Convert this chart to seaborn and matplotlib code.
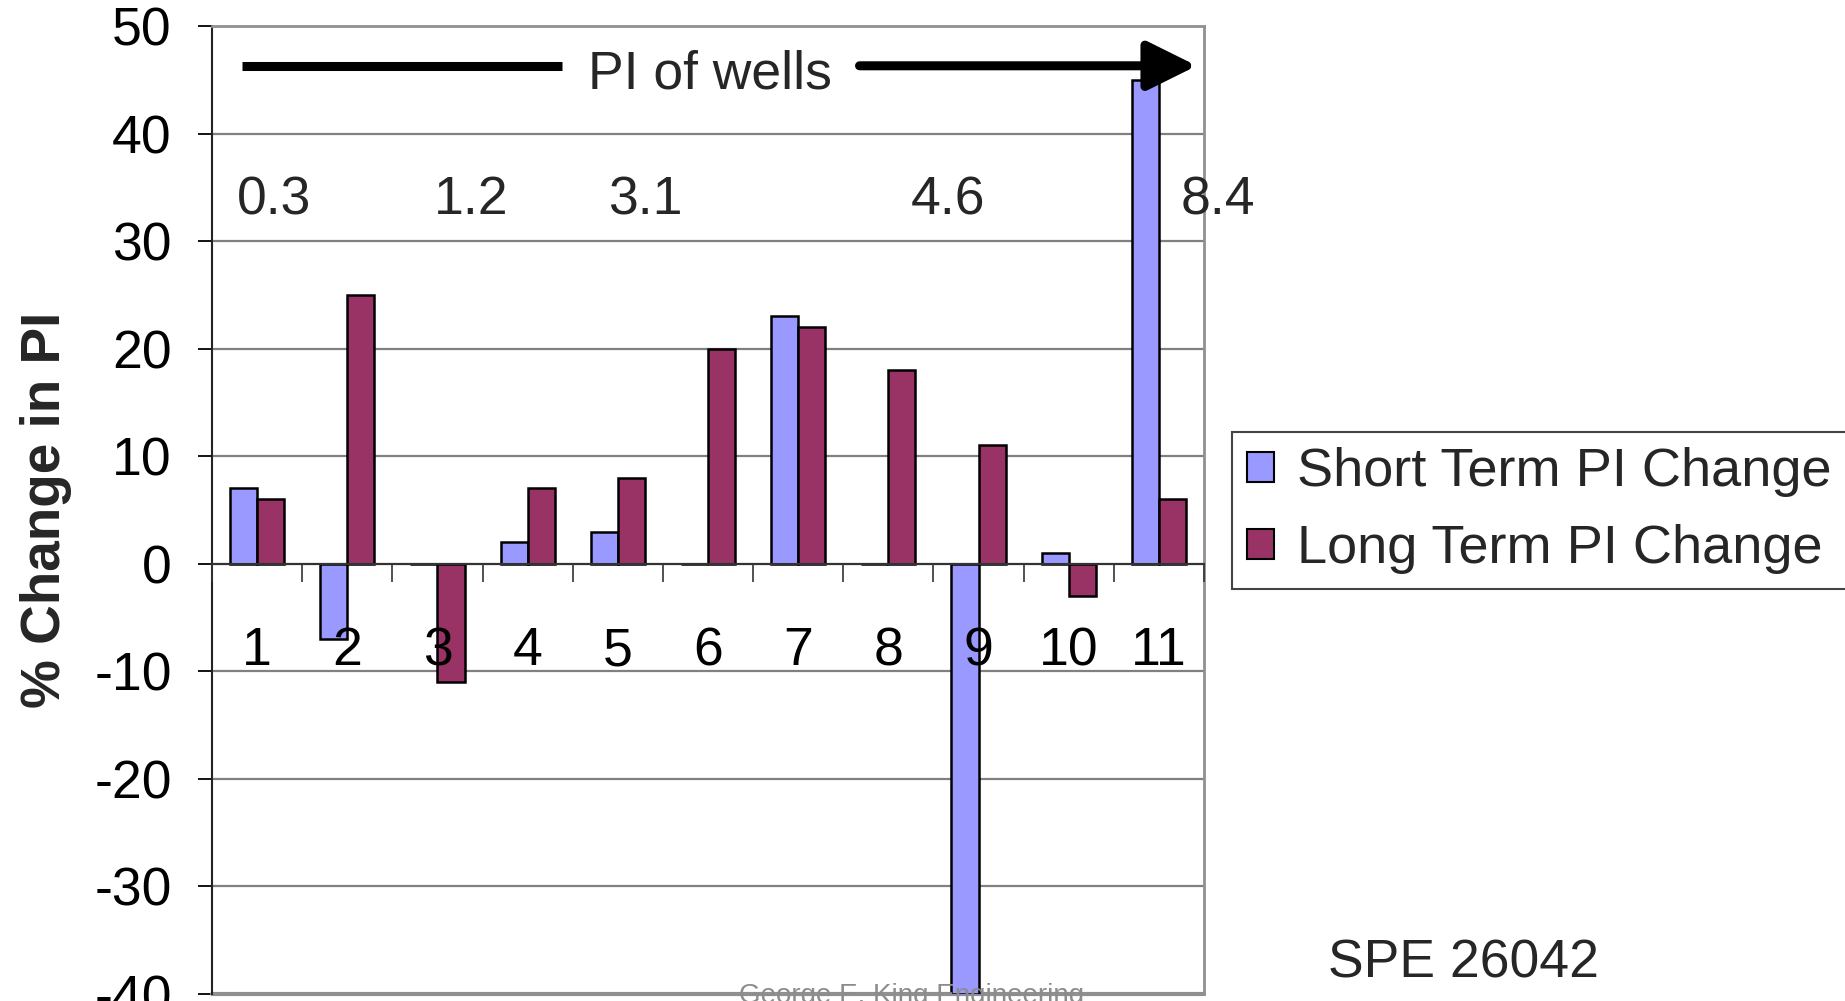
import numpy as np
import pandas as pd
import matplotlib
matplotlib.use("Agg")
import matplotlib.pyplot as plt
import seaborn as sns

# Per-well percent change in productivity index after treatment
wells = ["1", "2", "3", "4", "5", "6", "7", "8", "9", "10", "11"]
short_term = [7, -7, 0, 2, 3, 0, 23, 0, -40, 1, 45]
long_term = [6, 25, -11, 7, 8, 20, 22, 18, 11, -3, 6]
series_names = ["Short Term PI Change", "Long Term PI Change"]
series_colors = ["#9999FF", "#993366"]

# Productivity index values marked along the top of the chart
pi_labels = ["0.3", "1.2", "3.1", "4.6", "8.4"]

y_ticks = list(range(-40, 51, 10))

sns.set_theme(style="white")
plt.rcParams["font.family"] = ["Liberation Sans", "DejaVu Sans"]

df = pd.DataFrame({
    "well": wells * 2,
    "value": short_term + long_term,
    "series": [series_names[0]] * len(wells) + [series_names[1]] * len(wells),
})

fig = plt.figure(figsize=(18.45, 10.01), dpi=100)
ax = fig.add_axes([212 / 1845, 1 - 994 / 1001, (1204 - 212) / 1845, (994 - 26) / 1001])

sns.barplot(
    data=df, x="well", y="value", hue="series", order=wells,
    hue_order=series_names, palette=series_colors, width=0.6, saturation=1,
    edgecolor="black", linewidth=1.8, errorbar=None, ax=ax, zorder=3,
)

FS = 38.5
ax.set_xlim(-0.5, len(wells) - 0.5)
ax.set_ylim(-40, 50)
ax.set_yticks(y_ticks)
ax.set_yticklabels([str(v) for v in y_ticks], fontsize=FS)
ax.yaxis.grid(True, color="#808080", linewidth=1.6)
ax.yaxis.set_zorder(0.5)
ax.xaxis.grid(False)

# x axis crosses at zero, with tick marks between categories
ax.spines["bottom"].set_position(("data", 0))
ax.spines["bottom"].set_color("#333333")
ax.spines["bottom"].set_linewidth(1.5)
ax.spines["bottom"].set_zorder(4)
for side in ("top", "right"):
    ax.spines[side].set_color("#909090")
    ax.spines[side].set_linewidth(2)
ax.spines["left"].set_color("#222222")
ax.spines["left"].set_linewidth(1.5)
ax.axhline(-40, color="#909090", linewidth=3, zorder=1, clip_on=False)

ax.set_xticks(range(len(wells)))
ax.set_xticklabels(wells, fontsize=FS)
ax.set_xticks(np.arange(-0.5, len(wells), 1.0), minor=True)
ax.tick_params(axis="x", which="major", length=0, pad=45, colors="black")
ax.tick_params(axis="x", which="minor", direction="out", length=13, width=1.2,
               color="#333333", bottom=True)
ax.tick_params(axis="y", direction="out", length=10, width=1.3, pad=19,
               colors="black", left=True)
ax.xaxis.set_zorder(6)
ax.set_xlabel("")
ax.set_ylabel("% Change in PI", fontsize=39.5, fontweight="bold", va="center")
ax.yaxis.set_label_coords(-0.167, 0.5)

# "PI of wells" arrow across the top
arrow_y = 46.3
ax.plot([-0.17, 3.38], [arrow_y, arrow_y], color="black", linewidth=6.5,
        solid_capstyle="butt", zorder=5, clip_on=False)
ax.annotate("", xy=(10.42, arrow_y), xytext=(6.68, arrow_y),
            arrowprops=dict(arrowstyle="-|>,head_length=1.25,head_width=0.62",
                            color="black", lw=6.5, mutation_scale=24,
                            shrinkA=0, shrinkB=0),
            zorder=5, annotation_clip=False)
ax.text(5.02, 45.5, "PI of wells", fontsize=FS, ha="center", va="center", zorder=6)

pi_x = [0.19, 2.37, 4.30, 7.66, 10.65]
for xp, lab in zip(pi_x, pi_labels):
    ax.text(xp, 33.8, lab, fontsize=FS, ha="center", va="center",
            zorder=6, clip_on=False)

# Legend placed outside the plotting area on the right
handles, labels = ax.get_legend_handles_labels()
ax.get_legend().remove()
for h in handles:
    h.set_edgecolor("black")
    h.set_linewidth(1.5)
leg = fig.legend(handles, labels, loc="upper left",
                 bbox_to_anchor=(1232 / 1845, 1 - 432 / 1001),
                 bbox_transform=fig.transFigure, borderaxespad=0,
                 fontsize=39, handlelength=0.5, handleheight=0.5,
                 handletextpad=0.42, borderpad=0.28, labelspacing=0.5,
                 frameon=True, fancybox=False, framealpha=1)
leg.get_frame().set_edgecolor("#444444")
leg.get_frame().set_linewidth(1.5)

fig.text(1463 / 1845, 1 - 963 / 1001, "SPE 26042", fontsize=FS,
         ha="center", va="center")
fig.text(912 / 1845, 1 - 983 / 1001, "George E. King Engineering", fontsize=20,
         color="#8c8c8c", ha="center", va="top")

fig.savefig("out.png", dpi=100)
